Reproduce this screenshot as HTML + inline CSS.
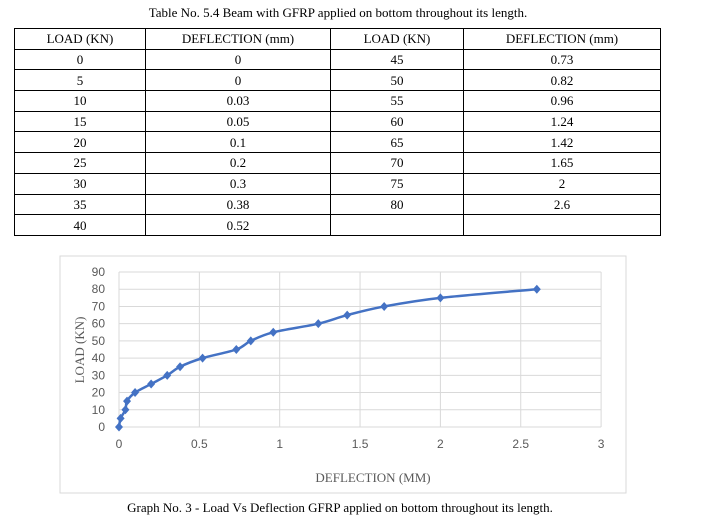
<!DOCTYPE html>
<html><head><meta charset="utf-8"><style>
body{margin:0;width:719px;height:519px;background:#fff;font-family:"Liberation Serif",serif;position:relative;overflow:hidden}
.title{position:absolute;top:5px;left:0;width:676px;text-align:center;font-size:13px}
table{position:absolute;left:14px;top:28px;border-collapse:collapse;font-size:13px}
td{border:1px solid #000;height:19.7px;padding:0;text-align:center;line-height:19px}
.cap{position:absolute;top:500px;left:0;width:680px;text-align:center;font-size:13px}
svg{position:absolute;left:0;top:0}
</style></head><body>
<div class="title">Table No. 5.4 Beam with GFRP applied on bottom throughout its length.</div>
<table>
<colgroup><col style="width:131px"><col style="width:185px"><col style="width:133px"><col style="width:197px"></colgroup>
<tr><td>LOAD (KN)</td><td>DEFLECTION (mm)</td><td>LOAD (KN)</td><td>DEFLECTION (mm)</td></tr>
<tr><td>0</td><td>0</td><td>45</td><td>0.73</td></tr>
<tr><td>5</td><td>0</td><td>50</td><td>0.82</td></tr>
<tr><td>10</td><td>0.03</td><td>55</td><td>0.96</td></tr>
<tr><td>15</td><td>0.05</td><td>60</td><td>1.24</td></tr>
<tr><td>20</td><td>0.1</td><td>65</td><td>1.42</td></tr>
<tr><td>25</td><td>0.2</td><td>70</td><td>1.65</td></tr>
<tr><td>30</td><td>0.3</td><td>75</td><td>2</td></tr>
<tr><td>35</td><td>0.38</td><td>80</td><td>2.6</td></tr>
<tr><td>40</td><td>0.52</td><td></td><td></td></tr>
</table>
<svg id="chart" width="719" height="519">
<rect x="60" y="256" width="566" height="237" fill="#fff" stroke="#d9d9d9"/>
<g id="grid"></g><g id="labels"></g><g id="series"></g>
<text x="373" y="482" text-anchor="middle" font-size="13" fill="#595959" font-family="Liberation Serif">DEFLECTION (MM)</text>
<text transform="translate(84,350) rotate(-90)" text-anchor="middle" font-size="13" fill="#595959" font-family="Liberation Serif">LOAD (KN)</text>
</svg>
<div class="cap">Graph No. 3 - Load Vs Deflection GFRP applied on bottom throughout its length.</div>
<script>
const deflection=[0,0.01,0.04,0.05,0.1,0.2,0.3,0.38,0.52,0.73,0.82,0.96,1.24,1.42,1.65,2,2.6];
const load=[0,5,10,15,20,25,30,35,40,45,50,55,60,65,70,75,80];
const xTicks=[0,0.5,1,1.5,2,2.5,3];
const xTickLabels=["0","0.5","1","1.5","2","2.5","3"];
const yTicks=[0,10,20,30,40,50,60,70,80,90];
const X=v=>119+v*160.7, Y=v=>427-v*1.722;
const ns="http://www.w3.org/2000/svg";
function mk(t,a,p){const e=document.createElementNS(ns,t);for(const k in a)e.setAttribute(k,a[k]);p.appendChild(e);return e;}
const grid=document.getElementById('grid'),lab=document.getElementById('labels'),ser=document.getElementById('series');
yTicks.forEach(v=>{
 const l=mk('line',{x1:X(0),x2:X(3),y1:Y(v),y2:Y(v),stroke:'#d9d9d9'},grid);
 
 
 const t=mk('text',{x:105,y:Y(v)+4,'text-anchor':'end','font-size':12,fill:'#595959','font-family':'Liberation Sans'},lab);
 t.textContent=v;
 
 
});
xTicks.forEach((v,i)=>{
 const l=mk('line',{x1:X(v),x2:X(v),y1:Y(0),y2:Y(90),stroke:'#d9d9d9'},grid);
 
 
 const t=mk('text',{x:X(v),y:448,'text-anchor':'middle','font-size':12,fill:'#595959','font-family':'Liberation Sans'},lab);
 t.textContent=xTickLabels[i];
 
 
});
const pts=deflection.map((d,i)=>[X(d),Y(load[i])]);
let d='M'+pts[0].join(',');
for(let i=0;i<pts.length-1;i++){
 const p0=pts[i-1]||pts[i],p1=pts[i],p2=pts[i+1],p3=pts[i+2]||p2;
 const c1=[p1[0]+(p2[0]-p0[0])/6,p1[1]+(p2[1]-p0[1])/6],c2=[p2[0]-(p3[0]-p1[0])/6,p2[1]-(p3[1]-p1[1])/6];
 d+=`C${c1},${c2},${p2}`;
}
const path=mk('path',{d:d,fill:'none',stroke:'#4472c4','stroke-width':2.5},ser);


pts.forEach(p=>{
 const m=mk('path',{d:`M${p[0]},${p[1]-4.5}L${p[0]+4},${p[1]}L${p[0]},${p[1]+4.5}L${p[0]-4},${p[1]}Z`,fill:'#4472c4'},ser);
 
 
});
</script>
</body></html>
